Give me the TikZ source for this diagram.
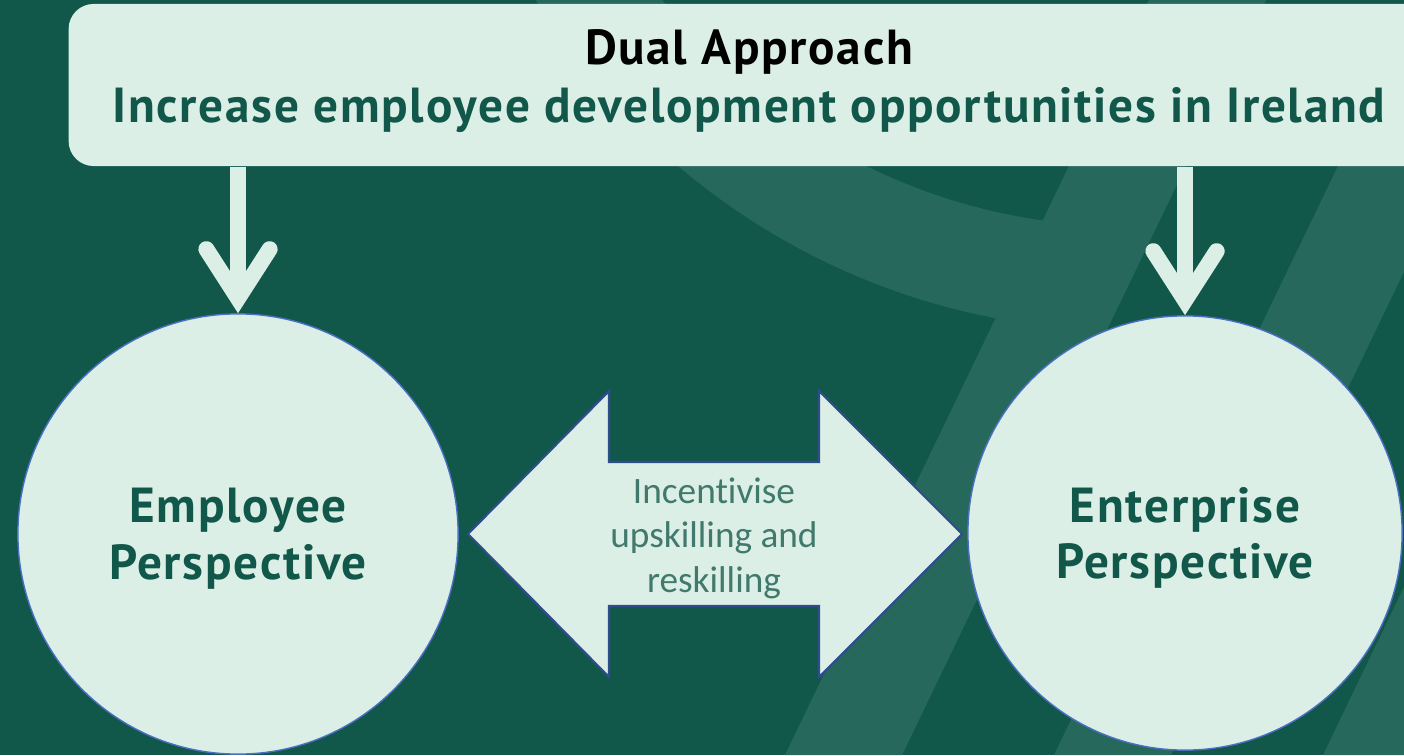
\documentclass[tikz,border=0pt]{standalone}
\usepackage{fontspec}
\usepackage{tikz}
\usetikzlibrary{arrows.meta}
\newfontfamily\headfont{PT Sans}[LetterSpace=3.5]
\newfontfamily\smallfont{Carlito}[Ligatures=NoCommon]

\definecolor{bgdark}{HTML}{11584B}
\definecolor{bgband}{HTML}{27685C}
\definecolor{mint}{HTML}{DCEFE6}
\definecolor{deepgreen}{HTML}{11584B}
\definecolor{softgreen}{HTML}{41796C}
\definecolor{edgeblue}{HTML}{4A6FC4}
\definecolor{navy}{HTML}{2F4C8C}

\tikzstyle{goalbox} = [fill=mint, rounded corners=0.25cm, minimum width=13.6cm, minimum height=1.62cm]
\tikzstyle{headline} = [anchor=base, font=\headfont\bfseries\fontsize{14}{16.5}\selectfont]
\tikzstyle{persp} = [circle, fill=mint, draw=edgeblue, line width=0.4pt, text=deepgreen, align=center, text depth=0pt, font=\headfont\bfseries\fontsize{14}{16.2}\selectfont]
\tikzstyle{feedarrow} = [line width=4.55pt, draw=mint, -{Straight Barb[length=14pt,width=18pt,line cap=round,line join=miter]}]
\tikzstyle{twoway} = [fill=mint, draw=navy, line width=0.6pt, line join=miter]

\begin{document}
\begin{tikzpicture}[x=0.01cm,y=-0.01cm]
\useasboundingbox (0,0) rectangle (1404,755);
\clip (0,0) rectangle (1404,755);
\fill[bgdark] (0,0) rectangle (1404,755);

% backdrop: ring and slanted stripes
\begin{scope}
\clip (-10,-400) -- (1342,-400) -- (785,755) -- (-10,755) -- cycle;
\fill[bgband, even odd rule] (1126,-362) circle (6.92cm) (1126,-362) circle (5.88cm);
\end{scope}
\foreach \x in {1149,1418,1687}
{
\fill[bgband] (\x,0) -- (\x+117,0) -- (\x-247,755) -- (\x-364,755) -- cycle;
}

\node[goalbox] (goal) at (749,85) {};
\node[headline, text=black] (goaltitle) at (749,65) {Dual Approach};
\node[headline, text=deepgreen] (goaltext) at (749,123) {Increase employee development opportunities in Ireland};

\node[persp, minimum size=4.4cm] (empl) at (238,534) {Employee\\Perspective};
\node[persp, minimum size=4.34cm] (entr) at (1185,533) {Enterprise\\Perspective};

\draw[feedarrow] (goal.south -| empl.north) -- (empl.north);
\draw[feedarrow] (goal.south -| entr.north) -- (entr.north);

\draw[twoway] (468,534) -- (609,391) -- (609,462) -- (819,462) -- (819,391) -- (962,534)
  -- (819,677) -- (819,606) -- (609,606) -- (609,677) -- cycle;
\node[text=softgreen, align=center, text depth=0pt, font=\smallfont\fontsize{10.6}{12.7}\selectfont] (link) at (714,535) {Incentivise\\upskilling and\\reskilling};
\end{tikzpicture}
\end{document}
